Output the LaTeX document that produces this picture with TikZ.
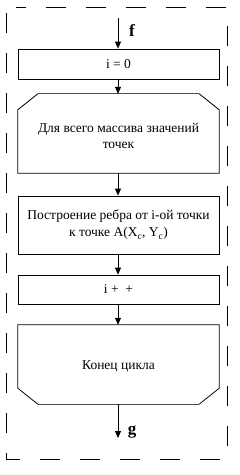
\documentclass[tikz,border=0pt]{standalone}
\usepackage{fontspec}
\setmainfont{Liberation Serif}
\usetikzlibrary{arrows.meta,calc}
\tikzset{
  box/.style={draw, line width=0.8pt, minimum width=201pt, inner sep=0pt, align=center, font=\fontsize{13.5}{17}\selectfont},
  txt/.style={inner sep=0pt, align=center, font=\fontsize{13.5}{16}\selectfont},
  conn/.style={line width=0.8pt, -{Triangle[length=7pt,width=6pt]}},
  lbl/.style={font=\fontsize{17}{17}\selectfont\bfseries, inner sep=0pt},
  frame/.style={line width=0.9pt, dash pattern=on 20pt off 20pt},
  edge/.style={line width=1.3pt, draw=black!70}
}
\begin{document}
\begin{tikzpicture}[x=1pt,y=-1pt]
\useasboundingbox (0,0) rectangle (239,475);
% frame
\draw[frame] (6,13) -- (6,459) -- (227,459) -- (227,7) -- (16,7);
% start
\coordinate (fs) at (118,18);
\node[lbl] (f) at (132,31) {f};
\node[box, minimum height=30pt] (b1) at (118.5,64) {i = 0};
% loop start
\node[minimum width=201pt, minimum height=79pt, inner sep=0pt] (ls) at (118.5,133.5) {};
\node[txt] (lst) at (118.5,136) {Для всего массива значений\\точек};
\draw[line width=0.8pt] ($(ls.north west)+(20,0)$) -- ($(ls.north west)+(0,16)$) -- (ls.south west) -- (ls.south east) -- ($(ls.north east)+(0,16)$) -- ($(ls.north east)+(-20,0)$);
\draw[edge] ($(ls.north west)+(20,0)$) -- ($(ls.north east)+(-20,0)$);
% box 2
\node[box, minimum height=58pt] (b2) at (118.5,225) {Построение ребра от i-ой точки\\к точке A(X\textsubscript{c}, Y\textsubscript{c})};
% box 3
\node[box, minimum height=29pt] (b3) at (118.5,289.5) {i +\ \ +};
% loop end
\node[minimum width=201pt, minimum height=79pt, inner sep=0pt] (le) at (118.5,364.5) {};
\node[txt] (let) at (118.5,366) {Конец цикла};
\draw[line width=0.8pt] ($(le.south west)+(20,0)$) -- ($(le.south west)+(0,-16)$) -- (le.north west) -- (le.north east) -- ($(le.south east)+(0,-16)$) -- ($(le.south east)+(-20,0)$);
\draw[edge] ($(le.south west)+(20,0)$) -- ($(le.south east)+(-20,0)$);
% end
\coordinate (ge) at (118,438);
\node[lbl] (g) at (132,432) {g};
% connectors
\draw[conn] (fs) -- (fs |- b1.north);
\draw[conn] (b1.south -| fs) -- (fs |- ls.north);
\draw[conn] (ls.south -| fs) -- (fs |- b2.north);
\draw[conn] (b2.south -| fs) -- (fs |- b3.north);
\draw[conn] (b3.south -| fs) -- (fs |- le.north);
\draw[conn] (le.south -| fs) -- (ge);
\end{tikzpicture}
\end{document}
